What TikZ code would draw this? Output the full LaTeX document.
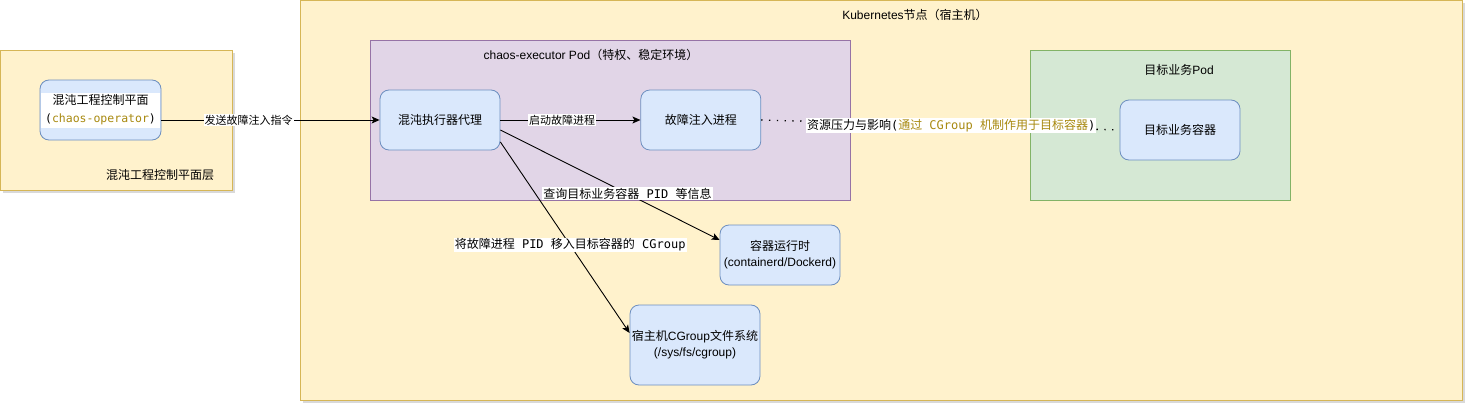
\documentclass[tikz,border=0pt]{standalone}
\usepackage{fontspec}
\setmainfont{Noto Sans CJK SC}
\setmonofont{DejaVu Sans Mono}
\newfontfamily\latfont{Liberation Sans}
\usetikzlibrary{arrows.meta, positioning, shadows}
\definecolor{hostbg}{HTML}{FFF2CC}
\definecolor{hostline}{HTML}{D6B656}
\definecolor{podbg}{HTML}{E1D5E7}
\definecolor{podline}{HTML}{9673A6}
\definecolor{targetbg}{HTML}{D5E8D4}
\definecolor{targetline}{HTML}{82B366}
\definecolor{compbg}{HTML}{DAE8FC}
\definecolor{compline}{HTML}{6C8EBF}
\definecolor{codegold}{HTML}{A8890F}
\tikzset{
  layerbox/.style={draw=hostline, fill=hostbg, inner sep=0pt, line width=0.8pt,
                   drop shadow={opacity=0.3, shadow xshift=3pt, shadow yshift=-3pt}},
  podbox/.style={draw=podline, fill=podbg, inner sep=0pt, line width=0.8pt},
  tpodbox/.style={draw=targetline, fill=targetbg, inner sep=0pt, line width=0.8pt},
  compbox/.style={draw=compline, fill=compbg, rounded corners=9pt, inner sep=0pt,
                  line width=0.8pt, align=center, font=\fontsize{12}{16}\selectfont},
  ttl/.style={inner sep=0pt, font=\fontsize{12}{14}\selectfont},
  arr/.style={-{Stealth[length=8pt, width=7pt, inset=2pt]}, line width=0.9pt, black},
  dotarr/.style={black, line width=1.3pt, dash pattern=on 1.3pt off 6.5pt},
  labl/.style={fill=white, inner sep=1pt, font=\fontsize{11}{13}\selectfont},
  codelabl/.style={labl, font=\fontsize{12}{14}\selectfont},
}

\begin{document}
\begin{tikzpicture}[x=1pt, y=-1pt]

  \useasboundingbox (0,0) rectangle (1472,412);

  %% control plane layer
  \node[layerbox, minimum width=232pt, minimum height=140pt] (cpl) at (116,120) {};
  \node[ttl] (cpltitle) at (160,175) {混沌工程控制平面层};

  \node[compbox, minimum width=121pt, minimum height=60pt,
        label={[fill=white, inner sep=0pt, minimum width=119pt, minimum height=35pt,
                align=center, font=\fontsize{12}{18}\selectfont]center:混沌工程控制平面\\
                \texttt{\fontsize{11.5}{18}\selectfont(\textcolor{codegold}{chaos-operator})}}]
    (ops) at (100.5,110) {};

  %% kubernetes node (host)
  \node[layerbox, minimum width=1162pt, minimum height=400pt] (k8s) at (881,200) {};
  \node[ttl] (k8stitle) at (915,15) {{\latfont Kubernetes}节点（宿主机）};

  %% chaos-executor pod
  \node[podbox, minimum width=480pt, minimum height=160pt] (pod) at (610,120) {};
  \node[ttl] (podtitle) at (591,55) {{\latfont chaos-executor Pod}（特权、稳定环境）};

  \node[compbox, minimum width=120pt, minimum height=60pt] (agent) at (440,120) {混沌执行器代理};
  \node[compbox, minimum width=120pt, minimum height=60pt, right=140pt of agent] (fault) {故障注入进程};

  %% target pod
  \node[tpodbox, minimum width=260pt, minimum height=150pt] (tpod) at (1160,125) {};
  \node[ttl] (tpodtitle) at (1179,70) {目标业务{\latfont Pod}};
  \node[compbox, minimum width=120pt, minimum height=60pt] (tc) at (1180,130) {目标业务容器};

  %% host components
  \node[compbox, minimum width=120pt, minimum height=60pt] (rt) at (780,255)
    {容器运行时\\{\latfont (containerd/Dockerd)}};
  \node[compbox, minimum width=130pt, minimum height=80pt] (cg) at (695,345)
    {宿主机{\latfont CGroup}文件系统\\{\latfont (/sys/fs/cgroup)}};

  %% connectors
  \draw[arr] ([yshift=-10pt]ops.east) -- node[labl, pos=0.4] {发送故障注入指令} (agent.west);
  \draw[arr] (agent.east) -- node[labl, pos=0.44] {启动故障进程} (fault.west);
  \draw[dotarr] (fault.east) -- node[codelabl, pos=0.53, yshift=-0.5pt]
    {资源压力与影响\texttt{(}\textcolor{codegold}{通过\texttt{ CGroup }机制作用于目标容器}\texttt{)}} (tc.west);
  \draw[arr] ([yshift=-10pt]agent.east) -- node[codelabl, pos=0.58]
    {查询目标业务容器\texttt{ PID }等信息} ([yshift=15pt]rt.west);
  \draw[arr] ([yshift=-22pt]agent.east) -- node[codelabl, pos=0.54]
    {将故障进程\texttt{ PID }移入目标容器的\texttt{ CGroup}} ([yshift=12pt]cg.west);

\end{tikzpicture}
\end{document}
